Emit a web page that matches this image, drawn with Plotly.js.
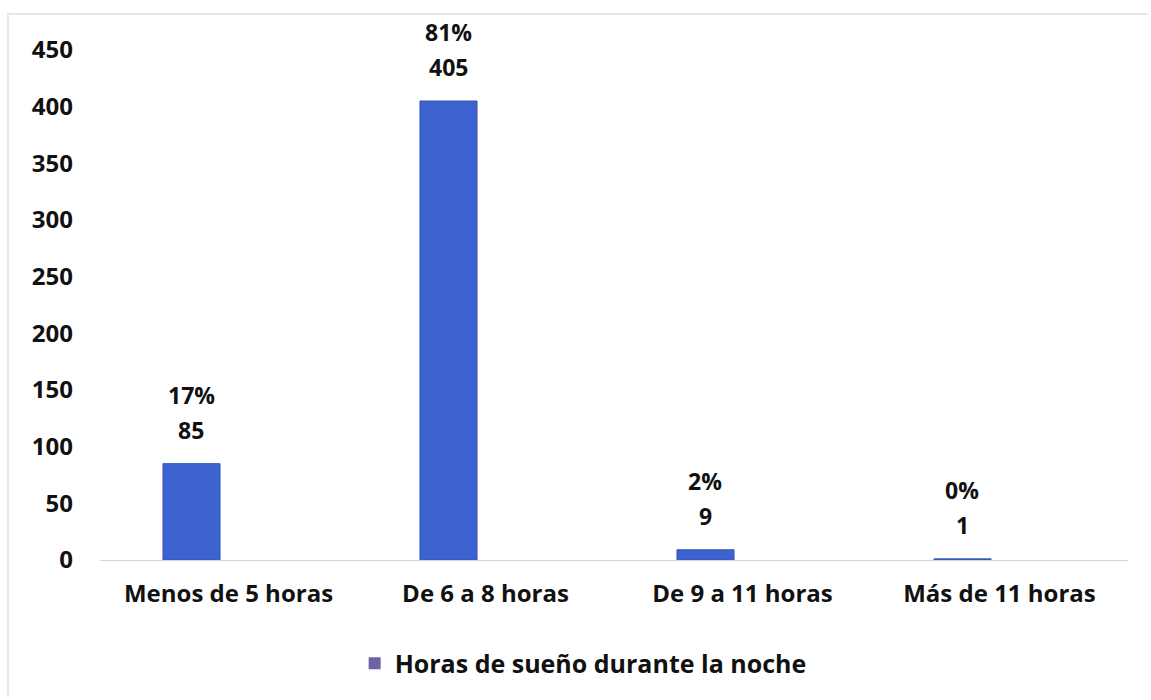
<!DOCTYPE html>
<html>
<head>
<meta charset="utf-8">
<script src="https://cdn.plot.ly/plotly-3.0.1.min.js"></script>
<style>
html,body{margin:0;padding:0;background:#fff;}
#frame{position:absolute;left:7px;top:13px;width:1141px;height:684px;border-top:2px solid #e6e6e6;border-left:2px solid #e6e6e6;box-sizing:border-box;}
#chart{position:absolute;left:0;top:0;width:1151px;height:700px;}
</style>
</head>
<body>
<div id="frame"></div>
<div id="chart"></div>
<script>
const categories = ["Menos de 5 horas", "De 6 a 8 horas", "De 9 a 11 horas", "Más de 11 horas"];
const counts = [85, 405, 9, 1];
const percents = ["17%", "81%", "2%", "0%"];
const seriesName = "Horas de sueño durante la noche";
const yTicks = [0, 50, 100, 150, 200, 250, 300, 350, 400, 450];

const FONT = "'Open Sans', Lato, sans-serif";
const BAR_OFFSET = -0.255, BAR_WIDTH = 0.222;

const traces = [
  {
    type: "bar", x: categories, y: counts, showlegend: false,
    offset: BAR_OFFSET, width: BAR_WIDTH,
    marker: {color: "#3d63d1", line: {color: "#3353b8", width: 1}},
    hoverinfo: "x+y"
  },
  {
    type: "bar", x: [categories[0]], y: [null], name: seriesName, showlegend: true,
    marker: {color: "#6e62a6"}, hoverinfo: "skip"
  }
];

const annotations = [];
categories.forEach((c, i) => {
  const xc = i + BAR_OFFSET + BAR_WIDTH / 2;
  annotations.push({x: xc, y: counts[i], xref: "x", yref: "y", text: "<b>" + counts[i] + "</b>",
    showarrow: false, yanchor: "middle", yshift: 34, font: {family: FONT, size: 23, color: "#111"}});
  annotations.push({x: xc, y: counts[i], xref: "x", yref: "y", text: "<b>" + percents[i] + "</b>",
    showarrow: false, yanchor: "middle", yshift: 69, font: {family: FONT, size: 23, color: "#111"}});
});

const layout = {
  width: 1151, height: 700,
  margin: {l: 100, r: 23, t: 50, b: 140},
  paper_bgcolor: "rgba(0,0,0,0)", plot_bgcolor: "rgba(0,0,0,0)",
  font: {family: FONT, size: 24, color: "#111"},
  barmode: "overlay",
  xaxis: {
    type: "category", range: [-0.5, 3.5], showgrid: false, zeroline: false,
    showline: true, linecolor: "#d4d4d4", linewidth: 1, ticks: "",
    tickfont: {family: FONT, size: 24, color: "#111", weight: "bold"},
    ticklabelstandoff: 12
  },
  yaxis: {
    range: [0, 450], tickvals: yTicks, ticktext: yTicks.map(String),
    showgrid: false, zeroline: false, showline: false, ticks: "",
    tickfont: {family: FONT, size: 24, color: "#111", weight: "bold"},
    ticklabelstandoff: 26
  },
  showlegend: true,
  legend: {orientation: "h", x: 0.47, xanchor: "center", y: -0.203, yanchor: "middle",
    font: {family: FONT, size: 25, color: "#111", weight: "bold"}, bgcolor: "rgba(0,0,0,0)"},
  annotations: annotations
};

Plotly.newPlot("chart", traces, layout, {displayModeBar: false, staticPlot: true});
</script>
</body>
</html>
